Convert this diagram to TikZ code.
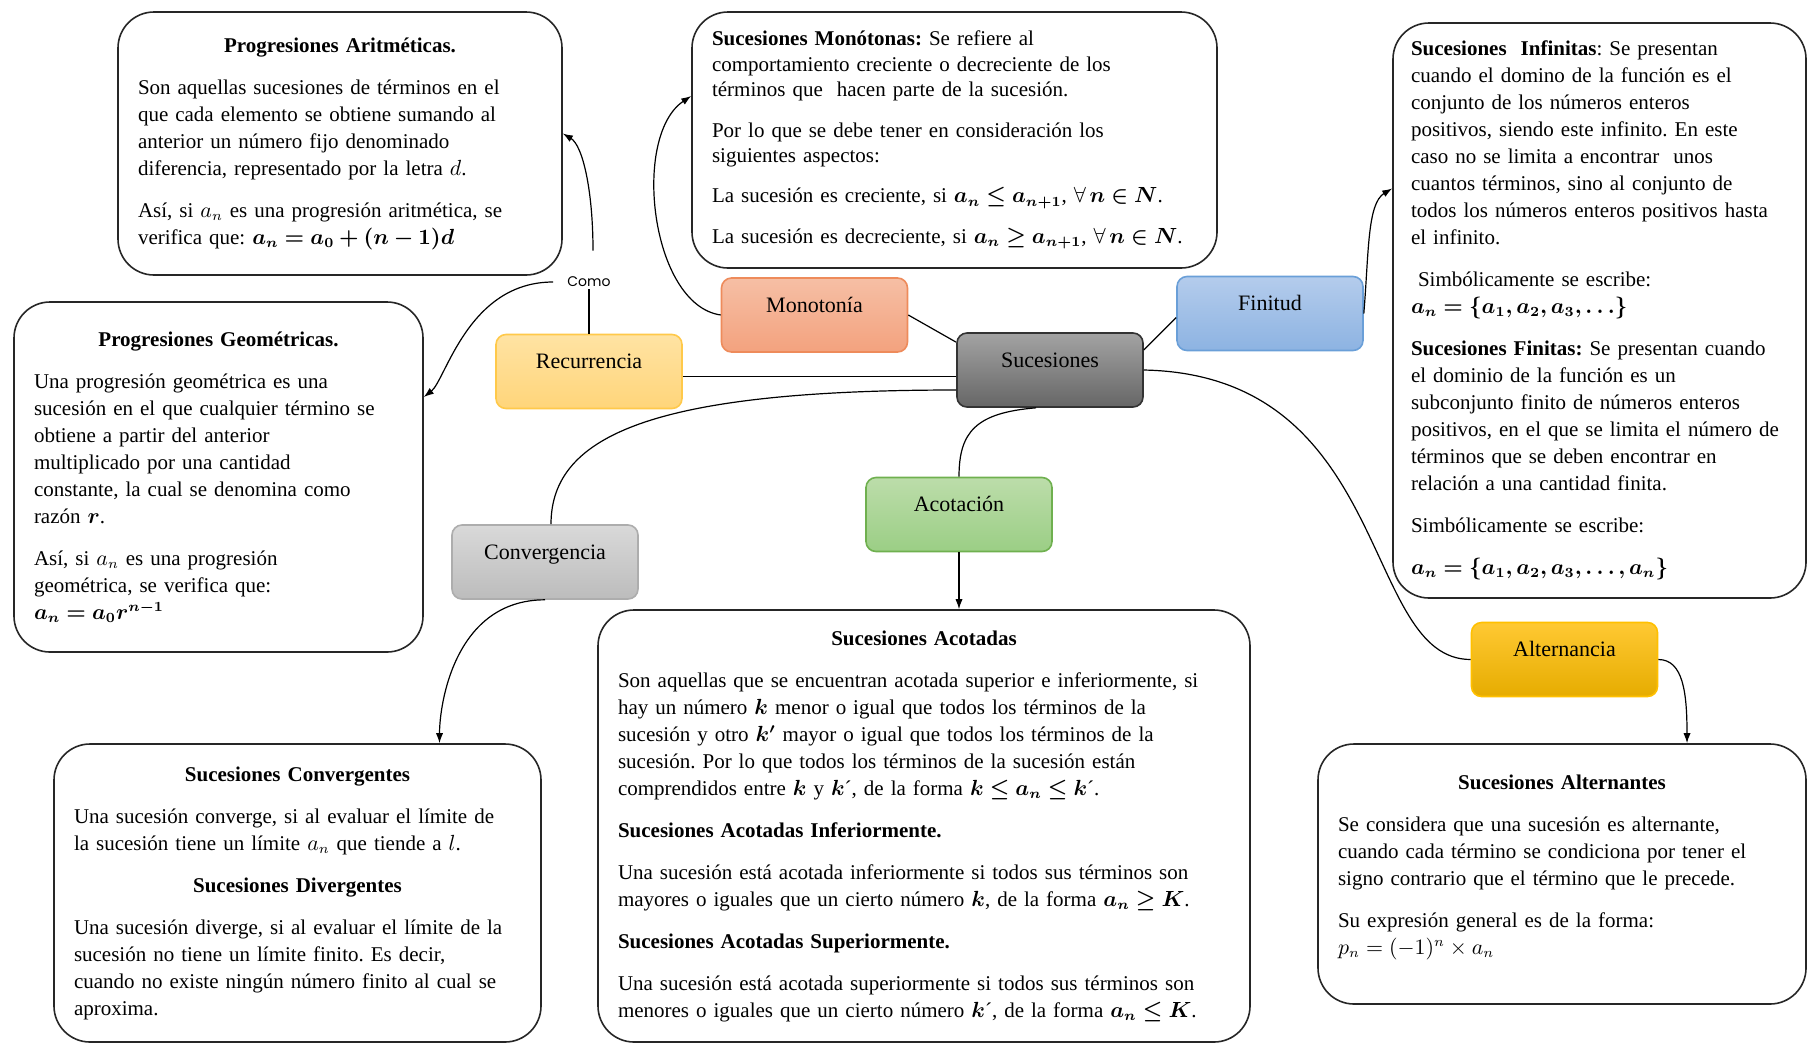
\documentclass[tikz,border=0pt]{standalone}
\usepackage{amsmath}
\usepackage{amssymb}
\usepackage{bm}
\usepackage{fontspec}
\setmainfont{Liberation Serif}
\newfontfamily\comofont{Poppins}
\usetikzlibrary{arrows.meta}

\definecolor{recuA}{HTML}{FFE3A3}
\definecolor{recuB}{HTML}{FFD57A}
\definecolor{recuC}{HTML}{FFC94A}
\definecolor{monoA}{HTML}{F6BFA5}
\definecolor{monoB}{HTML}{F3A27E}
\definecolor{monoC}{HTML}{EE8B5B}
\definecolor{sucA}{HTML}{A3A3A3}
\definecolor{sucB}{HTML}{666666}
\definecolor{sucC}{HTML}{333333}
\definecolor{finA}{HTML}{B4CCEC}
\definecolor{finB}{HTML}{8DB3E2}
\definecolor{finC}{HTML}{6A9FD8}
\definecolor{acoA}{HTML}{BCDDAA}
\definecolor{acoB}{HTML}{9BCE85}
\definecolor{acoC}{HTML}{6FB04F}
\definecolor{conA}{HTML}{D9D9D9}
\definecolor{conB}{HTML}{BCBCBC}
\definecolor{conC}{HTML}{ADADAD}
\definecolor{altA}{HTML}{FFC933}
\definecolor{altB}{HTML}{E6AC00}
\definecolor{altC}{HTML}{FFC000}

\newcommand{\titulo}[1]{{\centering\textbf{#1}\par}}
\frenchspacing

\begin{document}
\begin{tikzpicture}[x=0.5pt, y=-0.5pt,
		caja/.style = {draw=black!85, line width=0.8pt, rounded corners=18pt, align=left, inner xsep=10pt,
			font=\fontsize{10.5}{13.5}\selectfont, execute at begin node={\setlength{\parskip}{7.5pt}}},
		tema/.style n args = {3}{top color=#1, bottom color=#2, draw=#3, line width=0.8pt, rounded corners=5pt,
			minimum width=93pt, minimum height=37pt, text height=8pt, text depth=11pt, font=\fontsize{11}{13}\selectfont},
		linea/.style = {line width=0.6pt},
		flecha/.style = {-{Latex[length=5pt,width=3.6pt]}}]
	\useasboundingbox[fill=white] (0,0) rectangle (1809,1045);
	\node[caja, text width=202pt, minimum height=131.5pt] (arit) at (340,143.5) {
		\titulo{Progresiones Aritméticas.}
		Son aquellas sucesiones de términos en el\\ que cada elemento se obtiene sumando al\\ anterior un número fijo denominado\\ diferencia, representado por la letra $d$.\par
		Así, si $a_n$ es una progresión aritmética, se\\ verifica que: $\bm{a_n = a_0 + (n-1)d}$};
	\node[caja, text width=242.5pt, minimum height=128pt, font=\fontsize{10.5}{12.7}\selectfont] (monot) at (954.5,140) {
		\textbf{Sucesiones Monótonas:} Se refiere al\\ comportamiento creciente o decreciente de los\\ términos que\ \ hacen parte de la sucesión.\par
		Por lo que se debe tener en consideración los\\ siguientes aspectos:\par
		La sucesión es creciente, si $\bm{a_n \le a_{n+1}}$, $\forall\,\bm{n \in N}$.\par
		La sucesión es decreciente, si $\bm{a_n \ge a_{n+1}}$, $\forall\,\bm{n \in N}$.};
	\node[caja, text width=188.5pt, inner xsep=9pt, minimum height=287.5pt] (infin) at (1599.5,310.5) {
		\textbf{Sucesiones\ \ Infinitas}: Se presentan\\ cuando el domino de la función es el\\ conjunto de los números enteros\\ positivos, siendo este infinito. En este\\ caso no se limita a encontrar\ \ unos\\ cuantos términos, sino al conjunto de\\ todos los números enteros positivos hasta\\ el infinito.\par
		\ Simbólicamente se escribe:\\ $\bm{a_n = \{a_1, a_2, a_3, \ldots\}}$\par
		\textbf{Sucesiones Finitas:} Se presentan cuando\\ el dominio de la función es un\\ subconjunto finito de números enteros\\ positivos, en el que se limita el número de\\ términos que se deben encontrar en\\ relación a una cantidad finita.\par
		Simbólicamente se escribe:\par
		$\bm{a_n = \{a_1, a_2, a_3, \ldots, a_n\}}$};
	\node[caja, text width=184.5pt, minimum height=175pt] (geom) at (218.5,477) {
		\titulo{Progresiones Geométricas.}
		Una progresión geométrica es una\\ sucesión en el que cualquier término se\\ obtiene a partir del anterior\\ multiplicado por una cantidad\\ constante, la cual se denomina como\\ razón $\bm{r}$.\par
		Así, si $a_n$ es una progresión\\ geométrica, se verifica que:\\ $\bm{a_n = a_0 r^{n-1}}$};
	\node[caja, text width=223.5pt, minimum height=149pt] (convg) at (297.5,893) {
		\titulo{Sucesiones Convergentes}
		Una sucesión converge, si al evaluar el límite de\\ la sucesión tiene un límite $a_n$ que tiende a $l$.\par
		\titulo{Sucesiones Divergentes}
		Una sucesión diverge, si al evaluar el límite de la\\ sucesión no tiene un límite finito. Es decir,\\ cuando no existe ningún número finito al cual se\\ aproxima.};
	\node[caja, text width=306pt, minimum height=216pt] (acot) at (924,826) {
		\titulo{Sucesiones Acotadas}
		Son aquellas que se encuentran acotada superior e inferiormente, si\\ hay un número $\bm{k}$ menor o igual que todos los términos de la\\ sucesión y otro $\bm{k'}$ mayor o igual que todos los términos de la\\ sucesión. Por lo que todos los términos de la sucesión están\\ comprendidos entre $\bm{k}$ y $\bm{k}$´, de la forma $\bm{k \le a_n \le k}$´.\par
		\textbf{Sucesiones Acotadas Inferiormente.}\par
		Una sucesión está acotada inferiormente si todos sus términos son\\ mayores o iguales que un cierto número $\bm{k}$, de la forma $\bm{a_n \ge K}$.\par
		\textbf{Sucesiones Acotadas Superiormente.}\par
		Una sucesión está acotada superiormente si todos sus términos son\\ menores o iguales que un cierto número $\bm{k}$´, de la forma $\bm{a_n \le K}$.};
	\node[caja, text width=224pt, minimum height=130pt] (alter) at (1562,874) {
		\titulo{Sucesiones Alternantes}
		Se considera que una sucesión es alternante,\\ cuando cada término se condiciona por tener el\\ signo contrario que el término que le precede.\par
		Su expresión general es de la forma:\\ $p_n = (-1)^n \times a_n$\par\vspace{-4pt}\hbox{}};
	\node[tema={recuA}{recuB}{recuC}] (recu) at (589,371.5) {Recurrencia};
	\node[tema={monoA}{monoB}{monoC}] (monon) at (814.5,315) {Monotonía};
	\node[tema={sucA}{sucB}{sucC}] (suc) at (1050,370) {Sucesiones};
	\node[tema={finA}{finB}{finC}] (fin) at (1270,313.5) {Finitud};
	\node[tema={acoA}{acoB}{acoC}] (acotn) at (959,514.5) {Acotación};
	\node[tema={conA}{conB}{conC}] (convn) at (545,562) {Convergencia};
	\node[tema={altA}{altB}{altC}] (altn) at (1564.5,659.5) {Alternancia};
	\node[font=\comofont\fontsize{7}{8}\selectfont, inner sep=1pt] (como) at (589,282) {Como};
	\draw[linea] ([yshift=-2.5pt]recu.east) -- ([yshift=-2.5pt]recu.east -| suc.west);
	\draw[linea] (monon.east) -- ([yshift=-5pt]suc.north west);
	\draw[linea] ([yshift=10pt]suc.east) -- ([yshift=-2pt]fin.west);
	\draw[linea, flecha] (monon.west) .. controls +(-70,-10) and +(-60,40) .. ([yshift=22pt]monot.west);
	\draw[linea, flecha] (fin.east) .. controls +(5,-60) and +(-25,15) .. ([yshift=61pt]infin.west);
	\draw[linea] ([xshift=-7pt]suc.south) .. controls +(-60,5) and +(0,-45) .. (acotn.north);
	\draw[linea, flecha] (acotn.south) -- (acotn.south |- acot.north);
	\draw[linea] ([yshift=-10pt]suc.west) .. controls +(-300,0) and +(0,-90) .. ([xshift=3pt]convn.north);
	\draw[linea, flecha] (convn.south) .. controls +(-90,0) and +(0,-40) .. ([xshift=71pt]convg.north);
	\draw[linea] (suc.east) .. controls +(250,5) and +(-110,0) .. (altn.west);
	\draw[linea, flecha] (altn.east) .. controls +(25,0) and +(0,-50) .. ([xshift=62.5pt]alter.north);
	\draw[linea] (recu.north) -- (como.south);
	\draw[linea, flecha] ([xshift=-6pt]como.west) .. controls +(-85,0) and +(22,-17) .. ([yshift=40pt]geom.east);
	\draw[linea, flecha] ([xshift=2pt,yshift=12pt]como.north) .. controls +(0,-60) and +(20,12) .. ([yshift=5pt]arit.east);
\end{tikzpicture}
\end{document}
